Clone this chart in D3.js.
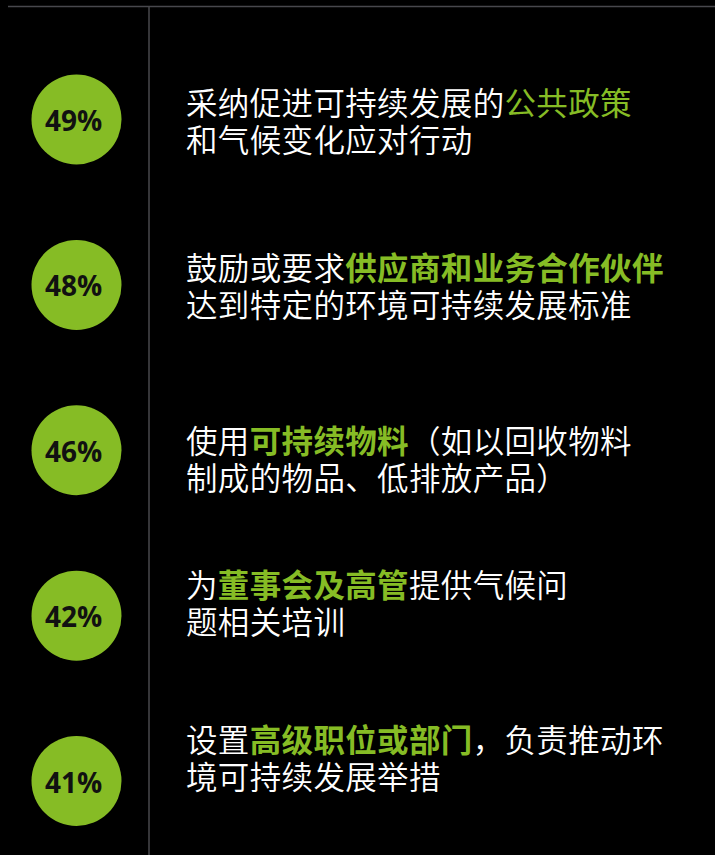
<!DOCTYPE html>
<html>
<head>
<meta charset="utf-8">
<script src="https://cdn.jsdelivr.net/npm/d3@7"></script>
<style>
  html, body { margin: 0; padding: 0; background: #000; }
  svg { display: block; }
</style>
</head>
<body>
<svg id="chart" width="715" height="855"></svg>
<script>

// share of respondents taking each action (%)
const shares = [49, 48, 46, 42, 41];

// two lines of text per action; [..] marks the highlighted words
const firstLines = [
    "采纳促进可持续发展的[公共政策]",
    "鼓励或要求[供应商和业务合作伙伴]",
    "使用[可持续物料]（如以回收物料",
    "为[董事会及高管]提供气候问",
    "设置[高级职位或部门]，负责推动环"
];
const secondLines = [
    "和气候变化应对行动",
    "达到特定的环境可持续发展标准",
    "制成的物品、低排放产品）",
    "题相关培训",
    "境可持续发展举措"
];

// layout only: vertical nudge of each text block against its circle, and highlight weight
const textShift = [0, 0, 7, -14, -25];
const highlightWeight = [400, 700, 700, 700, 700];

//-------------------------------------------------------------------------------

const W = 715, H = 855,
      green = '#86bc25',
      rule = '#48484d',
      cx = 76.5,
      rad = 45,
      textX = 186,
      fontPx = 31.5,
      lineGap = 37;

const svg = d3.select('#chart');

const y = d3.scalePoint()
    .domain(d3.range(shares.length))
    .range([119.5, 781]);

// frame rules
svg.append('line')
    .attr('x1', 8).attr('x2', W)
    .attr('y1', 6.5).attr('y2', 6.5)
    .attr('stroke', rule).attr('stroke-width', 1.5);

svg.append('line')
    .attr('x1', 149).attr('x2', 149)
    .attr('y1', 6).attr('y2', H)
    .attr('stroke', rule).attr('stroke-width', 1.5);

// split "abc[def]ghi" into segments
function Segments(str) {
    return str.split(/(\[[^\]]*\])/).filter(s => s.length)
        .map(s => s[0] == '[' ? { t: s.slice(1, -1), hi: true } : { t: s, hi: false });
}

const rows = svg.selectAll('g.row')
    .data(shares.map((v, i) => ({ i, v })))
    .join('g')
    .attr('class', 'row')
    .attr('transform', d => `translate(0,${y(d.i)})`);

rows.append('circle')
    .attr('cx', cx)
    .attr('cy', 0)
    .attr('r', rad)
    .attr('fill', green);

rows.append('text')
    .attr('x', cx - 3)
    .attr('y', 11.5)
    .attr('text-anchor', 'middle')
    .attr('font-family', "'Open Sans', 'DejaVu Sans', sans-serif")
    .attr('font-weight', 700)
    .attr('font-size', 28)
    .attr('fill', '#111')
    .text(d => d.v + '%');

rows.each(function(d) {
    const g = d3.select(this);
    [firstLines[d.i], secondLines[d.i]].forEach((line, k) => {
        const t = g.append('text')
            .attr('x', textX)
            .attr('y', -4.5 + textShift[d.i] + k * lineGap)
            .attr('font-family', "'Noto Sans CJK SC', sans-serif")
            .attr('font-size', fontPx)
            .attr('letter-spacing', 0.35)
            .attr('fill', '#fff');
        t.selectAll('tspan')
            .data(Segments(line))
            .join('tspan')
            .attr('fill', s => s.hi ? green : '#fff')
            .attr('font-weight', s => s.hi ? highlightWeight[d.i] : 350)
            .text(s => s.t);
    });
});

</script>
</body>
</html>
